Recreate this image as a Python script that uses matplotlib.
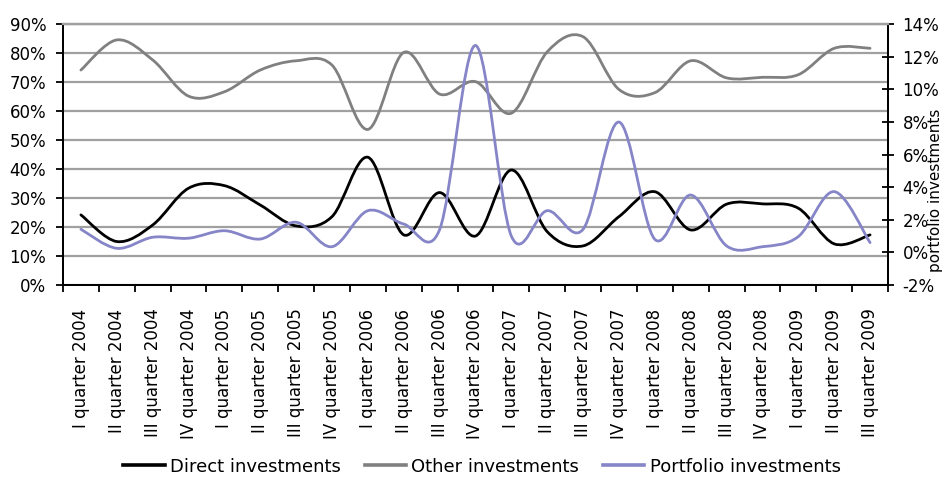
import numpy as np
import matplotlib
matplotlib.use("Agg")
import matplotlib.pyplot as plt
from matplotlib.path import Path
from matplotlib.patches import PathPatch
from matplotlib.lines import Line2D
from matplotlib.ticker import FixedLocator, FuncFormatter

quarters = [
    "I quarter 2004", "II quarter 2004", "III quarter 2004", "IV quarter 2004",
    "I quarter 2005", "II quarter 2005", "III quarter 2005", "IV quarter 2005",
    "I quarter 2006", "II quarter 2006", "III quarter 2006", "IV quarter 2006",
    "I quarter 2007", "II quarter 2007", "III quarter 2007", "IV quarter 2007",
    "I quarter 2008", "II quarter 2008", "III quarter 2008", "IV quarter 2008",
    "I quarter 2009", "II quarter 2009", "III quarter 2009",
]

# shares, % (left axis)
direct = [24.2, 15.0, 20.7, 33.4, 34.3, 27.6, 20.4, 23.6, 44.1, 17.3, 31.9, 16.9,
          39.7, 18.4, 13.5, 23.6, 32.2, 19.0, 27.9, 28.0, 26.5, 14.2, 17.3]
other = [74.2, 84.6, 77.7, 65.2, 66.7, 74.2, 77.4, 75.9, 53.7, 80.3, 65.9, 70.2,
         59.3, 80.5, 85.7, 67.5, 66.4, 77.4, 71.5, 71.7, 72.6, 81.7, 81.7]
# shares, % (right axis)
portfolio = [1.42, 0.25, 0.93, 0.87, 1.33, 0.82, 1.85, 0.35, 2.56, 1.74, 1.4, 12.7,
             1.0, 2.56, 1.42, 8.0, 0.8, 3.52, 0.4, 0.35, 0.97, 3.73, 0.6]

plt.rcParams["font.family"] = ["DejaVu Sans"]
plt.rcParams["axes.unicode_minus"] = False

FS = 12
C_DIRECT = "#000000"
C_OTHER = "#808080"
C_PORT = "#8585C8"
C_GRID = "#A0A0A0"


def smooth_path(values):
    """Cubic Bezier path through the points (Catmull-Rom style smoothing)."""
    y = np.asarray(values, dtype=float)
    x = np.arange(len(y), dtype=float)
    pts = np.column_stack([x, y])
    ext = np.vstack([pts[0], pts, pts[-1]])
    verts = [tuple(pts[0])]
    codes = [Path.MOVETO]
    for i in range(len(pts) - 1):
        p0, p1, p2, p3 = ext[i], ext[i + 1], ext[i + 2], ext[i + 3]
        c1 = p1 + (p2 - p0) / 6.0
        c2 = p2 - (p3 - p1) / 6.0
        verts += [tuple(c1), tuple(c2), tuple(p2)]
        codes += [Path.CURVE4] * 3
    return Path(verts, codes)


def add_line(ax, values, color):
    patch = PathPatch(smooth_path(values), fill=False, edgecolor=color,
                      linewidth=2.0, capstyle="round", joinstyle="round",
                      transform=ax.transData, zorder=3)
    ax.add_patch(patch)


fig = plt.figure(figsize=(9.47, 4.78), dpi=100)
ax = fig.add_axes([0.0665, 0.4038, 0.8712, 0.5454])
ax2 = ax.twinx()

n = len(quarters)
ax.set_xlim(-0.5, n - 0.5)
ax.set_ylim(0, 90)
ax2.set_ylim(-2, 14)

add_line(ax, other, C_OTHER)
add_line(ax, direct, C_DIRECT)
add_line(ax2, portfolio, C_PORT)

# grid from the left axis
ax.set_axisbelow(True)
ax.yaxis.set_major_locator(FixedLocator(np.arange(0, 91, 10)))
ax.grid(axis="y", color=C_GRID, linewidth=1.6)
ax.grid(axis="x", visible=False)

pct = FuncFormatter(lambda v, p: f"{v:.0f}%")
ax.yaxis.set_major_formatter(pct)
ax2.yaxis.set_major_locator(FixedLocator(np.arange(-2, 15, 2)))
ax2.yaxis.set_major_formatter(pct)

# category boundaries carry the tick marks, centres carry the labels
ax.xaxis.set_major_locator(FixedLocator(np.arange(-0.5, n, 1.0)))
ax.xaxis.set_major_formatter(FuncFormatter(lambda v, p: ""))
ax.xaxis.set_minor_locator(FixedLocator(np.arange(n)))
ax.set_xticklabels(quarters, minor=True, rotation=90, fontsize=FS, va="top")
ax.tick_params(axis="x", which="major", direction="out", length=5, width=1.3, color="black")
ax.tick_params(axis="x", which="minor", length=0, pad=17)
ax.tick_params(axis="y", direction="out", length=5, width=1.3, pad=7, labelsize=FS)
ax2.tick_params(axis="y", direction="inout", length=9, width=1.3, pad=6, labelsize=FS)

for a in (ax, ax2):
    a.spines["top"].set_color(C_GRID)
    a.spines["top"].set_linewidth(1.6)
    for s in ("left", "right", "bottom"):
        a.spines[s].set_color("black")
        a.spines[s].set_linewidth(1.4)

fig.text(935 / 947, 1 - 190 / 478, "portfolio investments", rotation=90,
         ha="center", va="center", fontsize=11)

handles = [Line2D([], [], color=C_DIRECT, lw=2.6),
           Line2D([], [], color=C_OTHER, lw=2.6),
           Line2D([], [], color=C_PORT, lw=2.6)]
labels = ["Direct investments", "Other investments", "Portfolio investments"]
fig.legend(handles, labels, loc="center", bbox_to_anchor=(0.509, 0.024), ncol=3,
           frameon=False, fontsize=13, handlelength=2.3, handletextpad=0.3,
           columnspacing=1.3)

fig.savefig("out.png", dpi=100)
